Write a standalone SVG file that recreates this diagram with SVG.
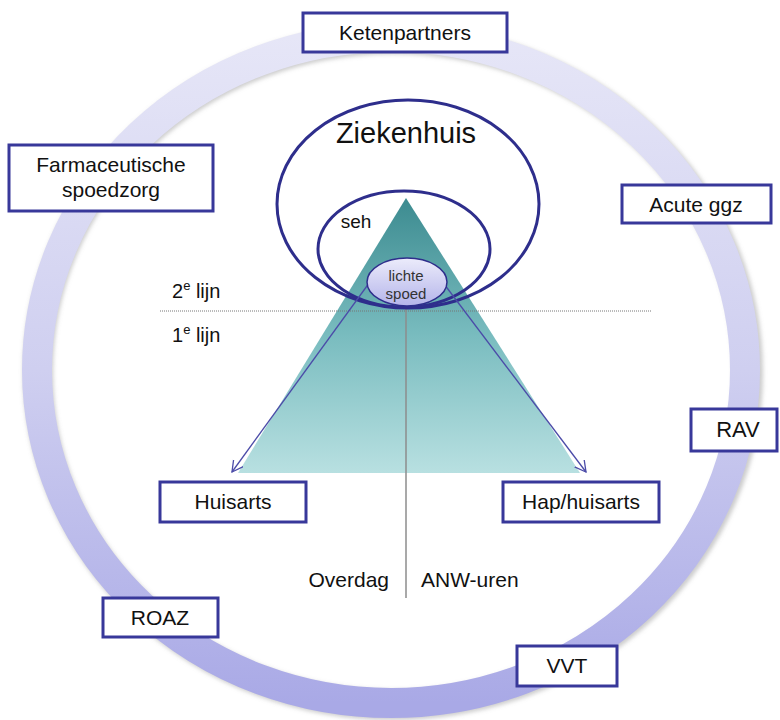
<svg xmlns="http://www.w3.org/2000/svg" width="780" height="720" viewBox="0 0 780 720">
<defs>
<linearGradient id="ringG" x1="0" y1="0" x2="0" y2="1">
<stop offset="0" stop-color="#e6e6f7"/>
<stop offset="0.5" stop-color="#cfcff0"/>
<stop offset="1" stop-color="#a9a9e6"/>
</linearGradient>
<linearGradient id="triG" x1="0" y1="0" x2="0" y2="1">
<stop offset="0" stop-color="#3c8b90"/>
<stop offset="0.5" stop-color="#79bcbf"/>
<stop offset="1" stop-color="#b8e0e1"/>
</linearGradient>
<linearGradient id="lsG" x1="0" y1="0" x2="0" y2="1">
<stop offset="0" stop-color="#ececfb"/>
<stop offset="1" stop-color="#b4b4ea"/>
</linearGradient>
<filter id="sh" x="-10%" y="-10%" width="120%" height="120%">
<feGaussianBlur stdDeviation="2"/>
</filter>
<marker id="arr" markerWidth="14" markerHeight="14" refX="11" refY="6" orient="auto" markerUnits="userSpaceOnUse">
<path d="M0,0 L11,6 L0,12" fill="none" stroke="#4b4ba8" stroke-width="1.3"/>
</marker>
</defs>
<style>
.box{fill:#ffffff;stroke:#38389a;stroke-width:3}
.t{font-family:"Liberation Sans",Arial,sans-serif;font-size:21px;fill:#111;text-anchor:middle}
.lbl{font-family:"Liberation Sans",Arial,sans-serif;font-size:21px;fill:#111}
.ell{fill:none;stroke:#2e2e8c;stroke-width:3}
.arrow{stroke:#4b4ba8;stroke-width:1.3;fill:none}
</style>
<rect width="780" height="720" fill="#ffffff"/>
<g id="ring">
<ellipse cx="393" cy="372" rx="355" ry="333" fill="none" stroke="#999" stroke-opacity="0.5" stroke-width="30" filter="url(#sh)"/>
<ellipse cx="391" cy="370" rx="354" ry="333" fill="none" stroke="url(#ringG)" stroke-width="30"/>
</g>
<g id="pyramid">
<polygon points="406,198 238,473 580,473" fill="url(#triG)"/>
</g>
<g id="lines">
<line x1="160" y1="311" x2="651" y2="311" stroke="#777" stroke-width="1" stroke-dasharray="1,1"/>
<line x1="406" y1="290" x2="406" y2="598" stroke="#8c8c8c" stroke-width="1.5"/>
</g>
<g id="ziekenhuis">
<ellipse class="ell" cx="408" cy="204" rx="131" ry="104"/>
<text x="406" y="143" class="t" style="font-size:29px">Ziekenhuis</text>
</g>
<g id="seh">
<ellipse class="ell" cx="404" cy="249" rx="86" ry="58"/>
<text x="356" y="228" class="t" style="font-size:19px">seh</text>
</g>
<g id="connectors">
<line class="arrow" x1="380" y1="268" x2="232" y2="472" marker-end="url(#arr)"/>
<line class="arrow" x1="432" y1="268" x2="586" y2="472" marker-end="url(#arr)"/>
</g>
<g id="lichte-spoed">
<ellipse cx="407" cy="282" rx="40" ry="24" fill="url(#lsG)" stroke="#2e2e8c" stroke-width="1.5"/>
<text x="406" y="281" class="t" style="font-size:15px;fill:#333">lichte</text>
<text x="406" y="299" class="t" style="font-size:15px;fill:#333">spoed</text>
</g>
<g id="lijn-labels">
<text x="172" y="298" class="lbl" style="font-size:20px">2<tspan dy="-8" style="font-size:13px">e</tspan><tspan dy="8"> lijn</tspan></text>
<text x="172" y="342" class="lbl" style="font-size:20px">1<tspan dy="-8" style="font-size:13px">e</tspan><tspan dy="8"> lijn</tspan></text>
<text x="389" y="587" class="lbl" style="text-anchor:end">Overdag</text>
<text x="421" y="587" class="lbl">ANW-uren</text>
</g>
<g id="ketenpartners">
<rect class="box" x="303" y="13" width="204" height="39"/>
<text x="405" y="40" class="t">Ketenpartners</text>
</g>
<g id="farmaceutische-spoedzorg">
<rect class="box" x="9" y="145" width="204" height="66"/>
<text x="111" y="172" class="t">Farmaceutische</text>
<text x="111" y="197" class="t">spoedzorg</text>
</g>
<g id="acute-ggz">
<rect class="box" x="622" y="185" width="149" height="38"/>
<text x="696" y="212" class="t">Acute ggz</text>
</g>
<g id="rav">
<rect class="box" x="691" y="409" width="86" height="42"/>
<text x="738" y="437" class="t" style="font-size:22px">RAV</text>
</g>
<g id="huisarts">
<rect class="box" x="160" y="482" width="146" height="40"/>
<text x="233" y="509" class="t">Huisarts</text>
</g>
<g id="hap-huisarts">
<rect class="box" x="503" y="482" width="156" height="40"/>
<text x="581" y="509" class="t">Hap/huisarts</text>
</g>
<g id="roaz">
<rect class="box" x="103" y="598" width="115" height="39"/>
<text x="160" y="625" class="t">ROAZ</text>
</g>
<g id="vvt">
<rect class="box" x="517" y="646" width="100" height="40"/>
<text x="567" y="673" class="t">VVT</text>
</g>
</svg>
